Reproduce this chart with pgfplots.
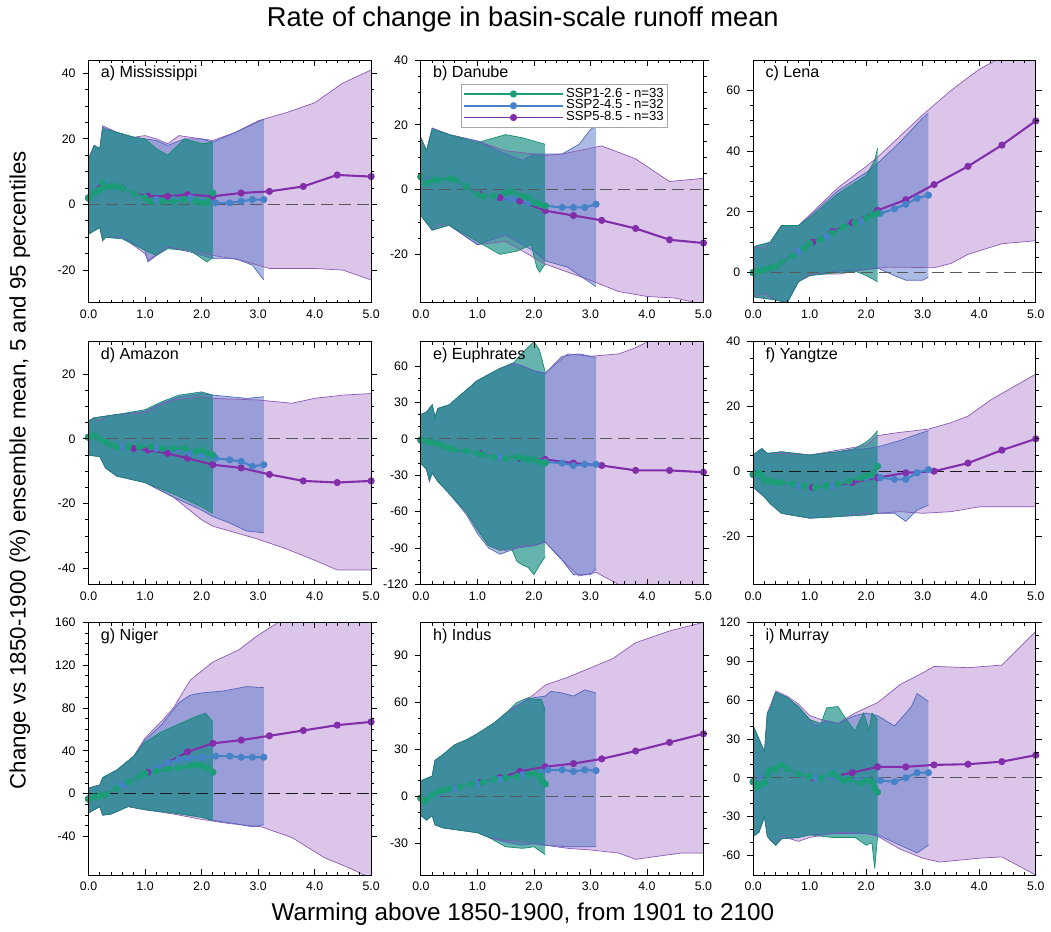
\documentclass[border=0pt]{standalone}
\usepackage{fontspec}
\setmainfont{Liberation Sans}
\usepackage{pgfplots}
\pgfplotsset{compat=1.18}
\usepgfplotslibrary{fillbetween}

\definecolor{gline}{RGB}{27,158,119}
\definecolor{bline}{RGB}{70,130,200}
\definecolor{pline}{RGB}{130,45,170}
\definecolor{gfillc}{RGB}{0,130,120}
\definecolor{bfillc}{RGB}{90,120,200}
\definecolor{pfillc}{RGB}{190,150,215}
\definecolor{gedge}{RGB}{20,140,110}
\definecolor{bedge}{RGB}{80,100,190}
\definecolor{pedge}{RGB}{140,90,180}

\tikzset{ptitle/.style={anchor=north west, font=\fontsize{8.1}{9}\selectfont, inner sep=1pt}}

\pgfplotsset{
  /pgf/number format/assume math mode=true,
  panel/.style={
    scale only axis, width=142pt, height=122pt,
    xmin=0, xmax=5, xtick={0,1,2,3,4,5}, minor x tick num=4,
    xticklabel={\pgfmathprintnumber[fixed,fixed zerofill,precision=1]{\tick}},
    tick label style={font=\fontsize{6.2}{7}\selectfont},
    xtick align=inside, ytick align=outside,
    major tick length=3pt, minor tick length=1.6pt,
    every tick/.style={black, line width=0.4pt},
    axis line style={line width=0.5pt},
    set layers, axis on top, anchor=north west,
  },
  pe/.style={forget plot, draw=pedge, line width=0.35pt},
  be/.style={forget plot, draw=bedge, line width=0.35pt},
  ge/.style={forget plot, draw=gedge, line width=0.35pt},
  pf/.style={forget plot, fill=pfillc, fill opacity=0.55, draw=none},
  bf/.style={forget plot, fill=bfillc, fill opacity=0.5, draw=none},
  gf/.style={forget plot, fill=gfillc, fill opacity=0.6, draw=none},
  zl/.style={forget plot, black!65, line width=0.6pt, dash pattern=on 6pt off 3pt},
  pm/.style={pline, line width=1.05pt, mark=*, mark size=1.25pt, mark options={solid, fill=pline}},
  bm/.style={bline, line width=1.05pt, mark=*, mark size=1.25pt, mark options={solid, fill=bline}},
  gm/.style={gline, line width=1.05pt, mark=*, mark size=1.25pt, mark options={solid, fill=gline}},
}

\begin{document}
\begin{tikzpicture}
\path (0,0) rectangle (525.5pt,-466.5pt);

% a) Mississippi
\begin{axis}[panel, at={(44.5pt,-30pt)}, ymin=-30, ymax=44, ytick={-20,0,20,40}, minor y tick num=3]
\addplot[pe, name path=pu] coordinates {(0,14) (0.1,18) (0.2,17) (0.25,24) (0.5,22) (0.8,20.5) (1.0,21) (1.2,20) (1.4,18.5) (1.6,21) (1.8,20.5) (2.2,19.5) (2.6,22) (3.0,25.5) (3.5,28) (4.0,31) (4.5,37) (5.0,41)};
\addplot[pe, name path=pl] coordinates {(0,-9) (0.2,-7) (0.25,-11) (0.3,-10) (0.6,-10) (1.0,-15) (1.05,-17) (1.4,-13) (1.8,-14) (2.2,-15.5) (2.7,-17) (3.2,-19.5) (4.0,-19.5) (4.5,-20) (5.0,-23)};
\addplot[pf] fill between[of=pu and pl];
\addplot[be, name path=bu] coordinates {(0,14) (0.1,18) (0.2,17) (0.25,23.5) (0.5,22) (0.8,20.5) (1.0,20) (1.2,19.5) (1.4,18) (1.7,20) (2.0,20) (2.2,19) (2.6,22) (3.1,26)};
\addplot[be, name path=bl] coordinates {(0,-9) (0.2,-7) (0.25,-11) (0.3,-10) (0.6,-10) (1.0,-14) (1.05,-17.5) (1.4,-13) (1.8,-14.5) (2.2,-16.5) (2.6,-16.5) (2.9,-18.5) (3.1,-23)};
\addplot[bf] fill between[of=bu and bl];
\addplot[ge, name path=gu] coordinates {(0,13.5) (0.1,18) (0.2,17) (0.25,23) (0.5,22) (0.8,20.5) (1.0,20) (1.2,17) (1.4,15) (1.7,20) (2.0,18.5) (2.2,19)};
\addplot[ge, name path=gl] coordinates {(0,-9) (0.2,-7) (0.25,-11) (0.3,-10) (0.6,-10.5) (1.0,-14) (1.2,-15.5) (1.4,-13.5) (1.8,-14) (2.05,-17) (2.1,-17.5) (2.2,-16)};
\addplot[gf] fill between[of=gu and gl];
\addplot[zl] coordinates {(0,0) (5,0)};
\addplot[pm] coordinates {(0,2) (0.2,5) (0.4,5.5) (0.6,5) (0.8,3.5) (1.05,2.5) (1.4,2.5) (1.75,3) (2.2,2.5) (2.7,3.5) (3.2,4) (3.8,5.5) (4.4,9) (5.0,8.5)};
\addplot[bm] coordinates {(0,2) (0.2,4.5) (0.3,6) (0.5,5.5) (0.8,3.5) (1.0,2) (1.2,1.5) (1.5,1.5) (1.8,2) (2.0,1) (2.25,0.5) (2.5,0.5) (2.7,1) (2.9,1.5) (3.1,1.5)};
\addplot[gm] coordinates {(0,2) (0.1,3.5) (0.2,4.5) (0.25,6.5) (0.3,5.5) (0.4,5.5) (0.5,5.5) (0.6,5) (0.8,3.5) (1.0,2) (1.1,1) (1.3,1) (1.5,1) (1.7,1.5) (1.9,1) (2.0,0.5) (2.1,0.5) (2.2,3.5)};
\node[ptitle] at (rel axis cs:0.035,0.985) {a) Mississippi};
\end{axis}

% b) Danube
\begin{axis}[panel, at={(211.5pt,-30pt)}, ymin=-35, ymax=40, ytick={-20,0,20,40}, minor y tick num=3,
  reverse legend,
  legend style={at={(rel axis cs:0.141,0.902)}, anchor=north west, draw=gray!70, fill=white,
    font=\fontsize{6.6}{6.6}\selectfont, inner sep=0.8pt, row sep=-2.2pt,
    nodes={inner sep=1pt}, cells={anchor=west}},
  legend image code/.code={\draw[#1, mark=none, line width=1pt] (0pt,0pt) -- (50pt,0pt); \draw[#1] plot coordinates {(25pt,0pt)};}]
\addplot[pe, name path=pu] coordinates {(0,16) (0.1,12) (0.2,19) (0.5,17) (1.0,15) (1.5,12) (2.0,11) (2.2,10.5) (2.5,11) (3.2,13.5) (3.8,9.5) (4.4,2.5) (5.0,3.5)};
\addplot[pe, name path=pl] coordinates {(0,-8) (0.2,-12.5) (0.3,-11) (0.5,-11) (1.0,-17) (1.5,-16) (2.0,-21) (2.2,-23) (2.6,-25.5) (3.0,-28) (3.5,-31.5) (4.0,-33) (4.5,-33.5) (5.0,-35.5)};
\addplot[pf] fill between[of=pu and pl];
\addplot[be, name path=bu] coordinates {(0,16) (0.1,12) (0.2,19) (0.5,17) (1.0,15) (1.5,11) (1.8,9) (2.0,11) (2.2,11) (2.5,11) (2.8,14) (3.0,18.5) (3.1,20)};
\addplot[be, name path=bl] coordinates {(0,-8) (0.2,-12.5) (0.5,-11) (1.0,-17) (1.5,-14) (2.0,-19) (2.2,-22) (2.6,-24) (3.1,-30)};
\addplot[bf] fill between[of=bu and bl];
\addplot[ge, name path=gu] coordinates {(0,16) (0.1,12) (0.2,18.5) (0.5,17) (1.0,14.5) (1.3,16) (1.5,17) (1.8,16) (2.0,15) (2.2,14)};
\addplot[ge, name path=gl] coordinates {(0,-8) (0.2,-12.5) (0.5,-11) (1.0,-16) (1.4,-20) (1.7,-19) (1.95,-17) (2.05,-24) (2.1,-25.5) (2.2,-23)};
\addplot[gf] fill between[of=gu and gl];
\addplot[zl] coordinates {(0,0) (5,0)};
\addplot[pm] coordinates {(0,4) (0.2,3) (0.5,3.5) (0.8,1) (1.05,-1.5) (1.4,-2.5) (1.75,-3.5) (2.2,-6.5) (2.7,-8) (3.2,-9.5) (3.8,-12) (4.4,-15.5) (5.0,-16.5)};
\addlegendentry{SSP5-8.5 - n=33}
\addplot[bm] coordinates {(0,4) (0.2,3) (0.5,3.5) (0.8,1) (1.0,-1.5) (1.3,-2) (1.6,-3) (1.9,-4) (2.2,-5) (2.5,-5.5) (2.7,-5.5) (2.9,-5.5) (3.1,-4.5)};
\addlegendentry{SSP2-4.5 - n=32}
\addplot[gm] coordinates {(0,4) (0.1,2) (0.2,3) (0.3,3) (0.5,3.5) (0.6,3) (0.8,1) (1.0,-1.5) (1.1,-2) (1.3,-2) (1.5,-1) (1.6,-0.5) (1.8,-2) (1.9,-2.5) (2.0,-4) (2.1,-4.5) (2.2,-5)};
\addlegendentry{SSP1-2.6 - n=33}
\node[ptitle] at (rel axis cs:0.035,0.985) {b) Danube};
\end{axis}

% c) Lena
\begin{axis}[panel, at={(378.5pt,-30pt)}, ymin=-10, ymax=70, ytick={0,20,40,60}, minor y tick num=3]
\addplot[pe, name path=pu] coordinates {(0,8.5) (0.2,8) (0.3,10) (0.5,15.5) (0.8,15.5) (1.0,19) (1.5,28) (2.0,35) (2.2,38) (2.6,45) (3.0,52) (3.5,60) (4.0,67) (4.5,72) (5.0,76)};
\addplot[pe, name path=pl] coordinates {(0,-8) (0.2,-7) (0.4,-9) (0.6,-10) (0.8,-3) (1.0,-0.5) (1.5,-0.5) (2.0,1) (2.4,1.8) (3.2,1.6) (3.5,3) (3.8,6) (4.4,9.5) (5.0,10.5)};
\addplot[pf] fill between[of=pu and pl];
\addplot[be, name path=bu] coordinates {(0,8.5) (0.3,10) (0.5,15.5) (0.8,15.5) (1.0,18.5) (1.5,27) (2.0,33) (2.2,36) (2.6,43) (3.0,51) (3.1,52.5)};
\addplot[be, name path=bl] coordinates {(0,-8) (0.4,-9) (0.6,-10) (0.8,-3) (1.0,-1) (1.5,0.5) (2.0,1) (2.2,1.5) (2.5,-1) (2.7,-2.5) (3.0,-2.5) (3.1,-1.5)};
\addplot[bf] fill between[of=bu and bl];
\addplot[ge, name path=gu] coordinates {(0,8.5) (0.3,10) (0.5,15.5) (0.8,15.5) (1.0,18) (1.5,26) (2.0,32) (2.15,37) (2.2,41)};
\addplot[ge, name path=gl] coordinates {(0,-8) (0.4,-9) (0.6,-10) (0.8,-3) (1.0,-1) (1.5,0) (1.8,0.5) (2.0,-1) (2.2,-3)};
\addplot[gf] fill between[of=gu and gl];
\addplot[zl] coordinates {(0,0) (5,0)};
\addplot[pm] coordinates {(0,0) (0.3,1.5) (0.5,3.5) (0.8,7) (1.05,10) (1.4,13.5) (1.75,16.5) (2.2,20.5) (2.7,24) (3.2,29) (3.8,35) (4.4,42) (5.0,50)};
\addplot[bm] coordinates {(0,0) (0.3,1.5) (0.5,3.5) (0.8,7) (1.0,9.5) (1.3,12) (1.6,15) (1.9,17) (2.25,19.5) (2.5,21) (2.7,22.5) (2.9,24.5) (3.1,25.5)};
\addplot[gm] coordinates {(0,0) (0.1,0.5) (0.2,1) (0.3,1.5) (0.4,2) (0.5,3.5) (0.7,5.5) (0.9,8) (1.0,9.5) (1.2,11) (1.4,13) (1.6,15) (1.8,16.5) (2.0,18) (2.1,19) (2.2,19.5)};
\node[ptitle] at (rel axis cs:0.035,0.985) {c) Lena};
\end{axis}

% d) Amazon
\begin{axis}[panel, at={(44.5pt,-171.5pt)}, ymin=-45, ymax=30, ytick={-40,-20,0,20}, minor y tick num=3]
\addplot[pe, name path=pu] coordinates {(0,5.5) (0.1,6.5) (0.2,5.5) (0.3,7) (0.5,7.5) (1.0,8) (1.2,10) (1.5,12) (2.0,13) (2.2,12.5) (3.0,12) (3.6,11) (4.0,12.5) (4.5,13.5) (5.0,14)};
\addplot[pe, name path=pl] coordinates {(0,-5) (0.2,-5.5) (0.3,-9) (0.5,-11.5) (1.0,-13.5) (1.5,-18) (2.0,-25) (2.2,-27) (2.5,-28.5) (3.0,-31) (3.5,-34) (4.0,-37.5) (4.4,-40.5) (5.0,-40.5)};
\addplot[pf] fill between[of=pu and pl];
\addplot[be, name path=bu] coordinates {(0,5.5) (0.1,6.5) (0.3,7) (0.5,7.5) (1.0,8.5) (1.3,11) (1.6,13) (2.0,14) (2.2,13.5) (2.5,13) (2.8,12.5) (3.1,13)};
\addplot[be, name path=bl] coordinates {(0,-5) (0.2,-5.5) (0.3,-9) (0.5,-11.5) (1.0,-13.5) (1.5,-18) (2.0,-22) (2.2,-24) (2.5,-26) (2.8,-28.5) (3.1,-29)};
\addplot[bf] fill between[of=bu and bl];
\addplot[ge, name path=gu] coordinates {(0,5.5) (0.1,6.5) (0.3,7) (0.5,7.5) (1.0,9) (1.3,11.5) (1.6,13.5) (2.0,14.5) (2.2,13.5)};
\addplot[ge, name path=gl] coordinates {(0,-5) (0.2,-5.5) (0.3,-9) (0.5,-11.5) (1.0,-13.5) (1.5,-17) (2.0,-21) (2.2,-23)};
\addplot[gf] fill between[of=gu and gl];
\addplot[zl] coordinates {(0,0) (5,0)};
\addplot[pm] coordinates {(0,0.5) (0.2,0) (0.4,-2) (0.6,-2.5) (0.8,-3) (1.05,-3.5) (1.4,-4.5) (1.75,-6) (2.2,-8) (2.7,-9) (3.2,-11) (3.8,-13) (4.4,-13.5) (5.0,-13)};
\addplot[bm] coordinates {(0,0.5) (0.2,0) (0.4,-2) (0.6,-2.5) (0.9,-2.5) (1.2,-3) (1.5,-3.5) (1.8,-4.5) (2.0,-5) (2.25,-6) (2.5,-6.5) (2.7,-7) (2.9,-8.5) (3.1,-8)};
\addplot[gm] coordinates {(0,0.5) (0.1,1) (0.2,0) (0.3,-1) (0.4,-2) (0.5,-2.5) (0.7,-2.5) (0.9,-2.5) (1.1,-2.5) (1.3,-3) (1.5,-3) (1.7,-3) (1.9,-4) (2.0,-3.5) (2.1,-4.5) (2.2,-5)};
\node[ptitle] at (rel axis cs:0.035,0.985) {d) Amazon};
\end{axis}

% e) Euphrates
\begin{axis}[panel, at={(211.5pt,-171.5pt)}, ymin=-120, ymax=80, ytick={-120,-90,-60,-30,0,30,60}, minor y tick num=2]
\addplot[pe, name path=pu] coordinates {(0,20) (0.1,22) (0.2,28) (0.25,18) (0.3,25) (0.5,28) (0.8,40) (1.0,48) (1.4,58) (1.65,62) (1.8,60) (2.0,56) (2.2,54) (2.4,62) (2.6,70) (3.0,68) (3.5,70) (3.8,75) (4.1,82) (5.0,95)};
\addplot[pe, name path=pl] coordinates {(0,-20) (0.1,-25) (0.15,-35) (0.2,-28) (0.3,-35) (0.5,-45) (0.8,-60) (1.0,-75) (1.2,-88) (1.5,-92) (1.8,-88) (2.0,-88) (2.2,-85) (2.5,-100) (2.8,-113) (3.1,-110) (3.5,-120) (4.0,-125) (5.0,-130)};
\addplot[pf] fill between[of=pu and pl];
\addplot[be, name path=bu] coordinates {(0,20) (0.1,22) (0.2,28) (0.25,18) (0.3,25) (0.5,28) (0.8,40) (1.0,48) (1.4,58) (1.65,62) (1.8,60) (2.0,56) (2.2,54) (2.5,68) (2.8,70) (3.1,67)};
\addplot[be, name path=bl] coordinates {(0,-20) (0.1,-25) (0.15,-35) (0.2,-28) (0.3,-35) (0.5,-45) (0.8,-62) (1.0,-78) (1.2,-90) (1.4,-95) (1.7,-90) (2.0,-88) (2.2,-85) (2.5,-100) (2.7,-112) (3.0,-112) (3.1,-107)};
\addplot[bf] fill between[of=bu and bl];
\addplot[ge, name path=gu] coordinates {(0,20) (0.1,22) (0.2,28) (0.25,17) (0.3,25) (0.5,28) (0.8,40) (1.0,48) (1.4,58) (1.65,63) (1.8,71) (2.0,80) (2.1,73) (2.2,55)};
\addplot[ge, name path=gl] coordinates {(0,-20) (0.1,-25) (0.15,-33) (0.2,-28) (0.3,-35) (0.5,-45) (0.8,-60) (1.0,-75) (1.2,-88) (1.4,-92) (1.6,-90) (1.7,-101) (1.8,-104) (1.9,-106) (2.0,-112) (2.1,-104) (2.2,-97)};
\addplot[gf] fill between[of=gu and gl];
\addplot[zl] coordinates {(0,0) (5,0)};
\addplot[pm] coordinates {(0,-1) (0.3,-4) (0.6,-9) (1.05,-12) (1.4,-15) (1.75,-16) (2.2,-17) (2.7,-20) (3.2,-22) (3.8,-26) (4.4,-26) (5.0,-27.5)};
\addplot[bm] coordinates {(0,-1) (0.3,-4) (0.6,-9) (1.0,-12) (1.4,-15) (1.8,-16) (2.2,-19) (2.5,-20) (2.7,-22) (2.9,-21) (3.1,-21)};
\addplot[gm] coordinates {(0,-1) (0.1,-2) (0.2,-3) (0.3,-4) (0.4,-6) (0.5,-8) (0.6,-9) (0.8,-10) (1.0,-12) (1.1,-13) (1.3,-15) (1.5,-16) (1.7,-15) (1.8,-16) (1.9,-17) (2.0,-17) (2.1,-19) (2.2,-20)};
\node[ptitle] at (rel axis cs:0.035,0.985) {e) Euphrates};
\end{axis}

% f) Yangtze
\begin{axis}[panel, at={(378.5pt,-171.5pt)}, ymin=-35, ymax=40, ytick={-20,0,20,40}, minor y tick num=3]
\addplot[pe, name path=pu] coordinates {(0,5) (0.15,7) (0.25,5.5) (0.5,5.5) (1.0,5) (1.5,6.5) (2.0,8) (2.2,11) (2.6,12) (3.1,13) (3.5,15) (3.8,17) (4.2,22) (4.6,26) (5.0,30)};
\addplot[pe, name path=pl] coordinates {(0,-5) (0.2,-8) (0.3,-10) (0.5,-13) (1.0,-14.5) (1.5,-14) (2.0,-13) (2.2,-13) (2.6,-12.5) (3.0,-13) (3.5,-12.5) (4.0,-11) (4.5,-11) (5.0,-11)};
\addplot[pf] fill between[of=pu and pl];
\addplot[be, name path=bu] coordinates {(0,5) (0.15,7) (0.25,5.5) (0.5,6) (1.0,5) (1.5,6) (2.0,7) (2.2,7.5) (2.6,9.5) (3.0,12) (3.1,12.5)};
\addplot[be, name path=bl] coordinates {(0,-5) (0.2,-8) (0.3,-10) (0.5,-13) (1.0,-14.5) (1.5,-14) (2.0,-13.5) (2.2,-13) (2.5,-13) (2.7,-15.5) (2.9,-12) (3.1,-10.5)};
\addplot[bf] fill between[of=bu and bl];
\addplot[ge, name path=gu] coordinates {(0,5) (0.15,7) (0.25,5.5) (0.5,6) (1.0,5) (1.5,6) (1.8,7) (2.0,9) (2.1,10.5) (2.2,12.5)};
\addplot[ge, name path=gl] coordinates {(0,-5) (0.1,-6) (0.2,-8) (0.3,-10) (0.5,-13) (1.0,-14.5) (1.5,-14) (2.0,-13.5) (2.2,-13)};
\addplot[gf] fill between[of=gu and gl];
\addplot[zl, black!90] coordinates {(0,0) (5,0)};
\addplot[pm] coordinates {(0,-1) (0.2,-3) (0.5,-3.5) (0.8,-4.5) (1.05,-5) (1.4,-4.5) (1.75,-3.5) (2.2,-2) (2.7,-0.5) (3.2,0) (3.8,2.5) (4.4,6.5) (5.0,10)};
\addplot[bm] coordinates {(0,-1) (0.2,-3) (0.5,-3.5) (0.8,-4.5) (1.1,-5) (1.4,-4.5) (1.7,-3) (2.0,-2) (2.25,-2) (2.5,-2.5) (2.7,-2.5) (2.9,-0.5) (3.1,0.5)};
\addplot[gm] coordinates {(0,-1) (0.1,-0.5) (0.15,-1.5) (0.2,-3) (0.3,-3) (0.4,-3.5) (0.5,-3.5) (0.7,-4) (0.9,-4.5) (1.1,-5) (1.3,-4.5) (1.5,-4) (1.7,-3) (1.9,-2) (2.0,-1.5) (2.1,-1) (2.2,1.5)};
\node[ptitle] at (rel axis cs:0.035,0.985) {f) Yangtze};
\end{axis}

% g) Niger
\begin{axis}[panel, at={(44.5pt,-312.5pt)}, height=127pt, ymin=-76, ymax=160, ytick={-40,0,40,80,120,160}, minor y tick num=3]
\addplot[pe, name path=pu] coordinates {(0,5) (0.1,7) (0.2,8) (0.25,15) (0.5,22) (0.8,35) (1.0,52) (1.3,68) (1.5,80) (1.8,106) (2.2,123) (2.65,134) (3.0,148) (3.36,160) (4.0,185) (5.0,200)};
\addplot[pe, name path=pl] coordinates {(0,-18) (0.2,-12) (0.25,-20) (0.4,-19) (0.7,-12) (1.0,-15) (1.5,-19) (2.0,-24) (2.5,-28) (3.06,-31) (3.6,-41) (4.18,-60) (4.6,-69) (5.0,-79)};
\addplot[pf] fill between[of=pu and pl];
\addplot[be, name path=bu] coordinates {(0,5) (0.2,8) (0.25,15) (0.5,22) (0.8,35) (1.0,50) (1.3,65) (1.6,85) (1.8,92) (2.0,94) (2.4,96) (2.8,100) (3.1,99)};
\addplot[be, name path=bl] coordinates {(0,-18) (0.2,-12) (0.25,-20) (0.4,-19) (0.7,-12) (1.0,-15) (1.5,-18) (2.0,-22) (2.2,-25) (2.6,-28) (2.9,-31) (3.1,-29)};
\addplot[bf] fill between[of=bu and bl];
\addplot[ge, name path=gu] coordinates {(0,5) (0.2,8) (0.25,15) (0.5,22) (0.8,35) (1.0,48) (1.3,58) (1.6,65) (1.9,72) (2.07,75) (2.2,67)};
\addplot[ge, name path=gl] coordinates {(0,-18) (0.2,-12) (0.25,-20) (0.4,-19) (0.7,-12) (1.0,-15) (1.5,-18) (2.0,-22) (2.2,-25)};
\addplot[gf] fill between[of=gu and gl];
\addplot[zl, black!90] coordinates {(0,0) (5,0)};
\addplot[pm] coordinates {(0,-5) (0.3,-1) (0.6,8) (0.9,16) (1.05,20) (1.4,29) (1.75,39) (2.2,47) (2.7,50) (3.2,54) (3.8,59) (4.4,64) (5.0,67)};
\addplot[bm] coordinates {(0,-5) (0.3,-1) (0.6,8) (0.9,16) (1.0,19) (1.2,24) (1.4,29) (1.6,32) (1.8,33) (2.0,34) (2.25,35) (2.5,35) (2.7,34) (2.9,34) (3.1,34)};
\addplot[gm] coordinates {(0,-5) (0.1,-3) (0.2,-2) (0.3,-1) (0.5,5) (0.7,11) (0.9,16) (1.0,19) (1.2,21) (1.4,23) (1.6,24) (1.8,26) (1.9,27) (2.0,26) (2.1,24) (2.2,20)};
\node[ptitle] at (rel axis cs:0.035,0.985) {g) Niger};
\end{axis}

% h) Indus
\begin{axis}[panel, at={(211.5pt,-312.5pt)}, height=127pt, ymin=-50, ymax=111, ytick={-30,0,30,60,90}, minor y tick num=2]
\addplot[pe, name path=pu] coordinates {(0,10) (0.2,13) (0.25,23) (0.4,27) (0.6,33) (0.8,36) (1.0,40) (1.3,47) (1.5,53) (1.8,60) (2.0,65) (2.2,71) (2.6,76) (3.07,83) (3.4,88) (3.8,98) (4.4,105.5) (5.0,111)};
\addplot[pe, name path=pl] coordinates {(0,-12) (0.1,-15) (0.2,-12) (0.25,-18) (0.4,-20) (0.6,-21) (1.0,-23) (1.2,-26) (1.5,-28) (1.8,-29) (2.2,-31) (2.6,-33) (3.0,-34) (3.5,-36) (3.8,-40) (4.2,-38) (4.6,-36) (5.0,-36)};
\addplot[pf] fill between[of=pu and pl];
\addplot[be, name path=bu] coordinates {(0,10) (0.2,13) (0.25,23) (0.4,27) (0.6,33) (0.8,36) (1.0,40) (1.3,47) (1.5,53) (1.7,58) (1.9,62) (2.0,63) (2.2,64) (2.3,67) (2.5,66) (2.7,64) (2.9,68) (3.1,66)};
\addplot[be, name path=bl] coordinates {(0,-12) (0.1,-15) (0.2,-12) (0.25,-18) (0.4,-20) (0.6,-21) (1.0,-23) (1.2,-26) (1.5,-29) (1.8,-31) (2.0,-30) (2.2,-31) (2.6,-32) (3.1,-32)};
\addplot[bf] fill between[of=bu and bl];
\addplot[ge, name path=gu] coordinates {(0,10) (0.2,13) (0.25,23) (0.4,27) (0.6,33) (0.8,36) (1.0,40) (1.3,47) (1.5,53) (1.7,60) (1.9,63) (2.0,62) (2.13,62) (2.2,55)};
\addplot[ge, name path=gl] coordinates {(0,-12) (0.1,-15) (0.2,-12) (0.25,-18) (0.4,-20) (0.6,-21) (1.0,-23) (1.2,-26) (1.5,-32) (1.8,-33) (2.0,-32) (2.2,-37)};
\addplot[gf] fill between[of=gu and gl];
\addplot[zl] coordinates {(0,0) (5,0)};
\addplot[pm] coordinates {(0,-1) (0.3,2) (0.6,5) (1.05,9) (1.4,12) (1.75,16) (2.2,19) (2.7,21) (3.2,24) (3.8,29) (4.4,34.5) (5.0,40)};
\addplot[bm] coordinates {(0,-1) (0.3,2) (0.6,5) (1.0,8) (1.4,11) (1.8,14) (2.0,15) (2.25,17) (2.5,17) (2.7,16) (2.9,17) (3.1,16.5)};
\addplot[gm] coordinates {(0,-1) (0.05,-3) (0.1,-2) (0.2,1) (0.3,3) (0.4,4) (0.5,5) (0.7,6) (0.9,8) (1.1,9) (1.3,11) (1.5,12) (1.7,13) (1.9,14) (2.0,15) (2.1,13) (2.15,10) (2.2,8)};
\node[ptitle] at (rel axis cs:0.035,0.985) {h) Indus};
\end{axis}

% i) Murray
\begin{axis}[panel, at={(378.5pt,-312.5pt)}, height=127pt, ymin=-75, ymax=120, ytick={-60,-30,0,30,60,90,120}, minor y tick num=2]
\addplot[pe, name path=pu] coordinates {(0,40) (0.1,30) (0.2,20) (0.25,50) (0.4,67) (0.6,63) (0.8,57) (1.0,48) (1.2,45) (1.5,42) (1.8,50) (2.2,58) (2.6,72) (3.0,81) (3.2,86) (3.8,85) (4.4,87) (5.0,113)};
\addplot[pe, name path=pl] coordinates {(0,-45) (0.1,-42) (0.2,-30) (0.25,-45) (0.4,-52) (0.5,-45) (0.8,-49) (1.0,-46) (1.5,-42) (2.0,-43) (2.2,-45) (2.6,-55) (3.0,-62) (3.3,-65) (4.0,-62) (4.4,-61) (5.0,-75)};
\addplot[pf] fill between[of=pu and pl];
\addplot[be, name path=bu] coordinates {(0,40) (0.1,30) (0.2,20) (0.25,50) (0.3,53) (0.4,66) (0.6,62) (0.8,55) (1.0,45) (1.1,40) (1.3,44) (1.5,42) (1.8,48) (2.0,50) (2.2,48) (2.5,40) (2.8,55) (2.9,65) (3.1,59)};
\addplot[be, name path=bl] coordinates {(0,-45) (0.1,-42) (0.2,-30) (0.25,-45) (0.3,-48) (0.4,-52) (0.5,-47) (0.8,-46) (1.0,-44) (1.5,-43) (2.0,-43) (2.2,-44) (2.5,-50) (2.9,-58) (3.1,-52)};
\addplot[bf] fill between[of=bu and bl];
\addplot[ge, name path=gu] coordinates {(0,40) (0.1,30) (0.2,20) (0.25,50) (0.3,53) (0.4,66) (0.6,62) (0.8,55) (1.0,45) (1.2,42) (1.3,54) (1.5,55) (1.6,48) (1.8,36) (1.95,50) (2.05,37) (2.1,50) (2.2,45)};
\addplot[ge, name path=gl] coordinates {(0,-45) (0.1,-42) (0.2,-30) (0.25,-45) (0.3,-48) (0.4,-52) (0.5,-47) (0.8,-46) (1.0,-44) (1.4,-46) (1.8,-46) (2.0,-52) (2.1,-50) (2.15,-70) (2.2,-45)};
\addplot[gf] fill between[of=gu and gl];
\addplot[zl] coordinates {(0,0) (5,0)};
\addplot[pm] coordinates {(0,-3) (0.3,5) (0.5,9) (0.8,3) (1.05,0) (1.4,1) (1.75,4) (2.2,8.5) (2.7,8.5) (3.2,10) (3.8,10.5) (4.4,12.5) (5.0,17.5)};
\addplot[bm] coordinates {(0,-3) (0.3,5) (0.5,9) (0.8,3) (1.1,0) (1.4,1) (1.7,-1) (2.0,-1) (2.25,-2) (2.5,-3) (2.7,0) (2.9,4) (3.1,4)};
\addplot[gm] coordinates {(0,-3) (0.05,-7) (0.1,-6) (0.2,-4) (0.25,2) (0.3,6) (0.4,7) (0.5,10) (0.6,7) (0.8,3) (1.0,1) (1.2,0) (1.4,3) (1.5,1) (1.6,-2) (1.7,-1) (1.9,-4) (2.0,-2) (2.1,-3) (2.15,-8) (2.2,-11)};
\node[ptitle] at (rel axis cs:0.035,0.985) {i) Murray};
\end{axis}

\node[font=\fontsize{13.7}{15}\selectfont] at (262.75pt,-9.5pt) {Rate of change in basin-scale runoff mean};
\node[font=\fontsize{12.2}{13}\selectfont] at (262.75pt,-459pt) {Warming above 1850-1900, from 1901 to 2100};
\node[rotate=90, font=\fontsize{11.2}{12}\selectfont] at (10pt,-236pt) {Change vs 1850-1900 (\%) ensemble mean, 5 and 95 percentiles};
\end{tikzpicture}
\end{document}
